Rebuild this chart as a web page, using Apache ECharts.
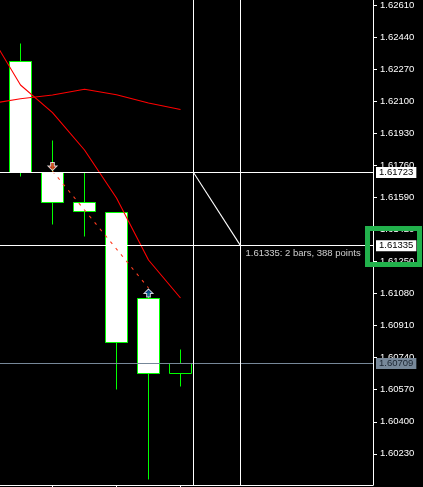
<!DOCTYPE html>
<html><head><meta charset="utf-8">
<style>html,body{margin:0;padding:0;background:#000;overflow:hidden}#c{width:423px;height:487px}</style>
<script src="https://cdn.jsdelivr.net/npm/echarts@6/dist/echarts.min.js"></script>
</head><body><div id="c"></div>
<script>
// open, close, low, high
const candles = [
  [1.623127, 1.61723, 1.616995, 1.624109],
  [1.61723, 1.615641, 1.614447, 1.618959],
  [1.615641, 1.615163, 1.61381, 1.61726],
  [1.61511, 1.608209, 1.605687, 1.61511],
  [1.610545, 1.606563, 1.600909, 1.610837],
  [1.606563, 1.60709, 1.605846, 1.607811]
];
const barIndex = [-1, 0, 1, 2, 3, 4, 5];
const fastMA = [1.624714, 1.621879, 1.620409, 1.618428, 1.61588, 1.612589, 1.610571];
const slowMA = [1.620871, 1.621152, 1.621348, 1.621651, 1.621364, 1.620924, 1.620579];
const tradeLine = [[1, 1.617314], [4, 1.611102]];
const sellArrow = [1, 1.617553];
const buyArrow = [4, 1.610837];
const priceTicks = [1.6261,1.6244,1.6227,1.621,1.6193,1.6176,1.6159,1.6142,1.6125,1.6108,1.6091,1.6074,1.6057,1.604,1.6023];
const barTicks = [1, 3, 5];
const crossStart = [5.406, 1.61723];
const crossEnd = [6.875, 1.61335];
const bidPrice = 1.60709;
const measureText = '1.61335: 2 bars, 388 points';

const FONT = '"Liberation Sans",sans-serif';
const SIZE = 9.5;
const chart = echarts.init(document.getElementById('c'), null, {renderer:'canvas'});
const red = '#ff0000';
function boxLabel(bg, fg){
  return {show:true, position:'end', distance:3, formatter:p=>p.value.toFixed(5),
    backgroundColor:bg, color:fg, fontFamily:FONT, fontSize:SIZE, lineHeight:11, padding:[0,3,0,3]};
}
chart.setOption({
  animation:false,
  backgroundColor:'#000',
  grid:{left:0, top:0, width:373, height:485, containLabel:false},
  xAxis:{type:'value', min:-0.6406, max:11.0156, position:'bottom',
    axisLine:{show:true, onZero:false, lineStyle:{color:'#fff',width:1}},
    axisTick:{show:true, length:2, customValues:barTicks, lineStyle:{color:'#fff'}},
    axisLabel:{show:false}, splitLine:{show:false}},
  yAxis:{type:'value', position:'right', min:1.600643, max:1.626392, scale:true,
    axisLine:{show:true, onZero:false, lineStyle:{color:'#fff',width:1}},
    axisTick:{show:true, length:4, customValues:priceTicks, lineStyle:{color:'#fff'}},
    axisLabel:{show:true, customValues:priceTicks, margin:7, color:'#fff', fontFamily:FONT, fontSize:SIZE,
      formatter:v=>v.toFixed(5)},
    splitLine:{show:false}},
  series:[
    {type:'custom', coordinateSystem:'cartesian2d', z:2, clip:true,
     data:candles.map((c,i)=>[i,c[0],c[1],c[2],c[3]]),
     encode:{x:0,y:[1,2,3,4]},
     renderItem:(params,api)=>{
       const i=api.value(0), o=api.value(1), c=api.value(2), l=api.value(3), h=api.value(4);
       const x=Math.floor(api.coord([i,o])[0])+0.5;
       const yO=Math.floor(api.coord([i,o])[1])+0.5, yC=Math.floor(api.coord([i,c])[1])+0.5;
       const yL=Math.floor(api.coord([i,l])[1])+0.5, yH=Math.floor(api.coord([i,h])[1])+0.5;
       const top=Math.min(yO,yC), bot=Math.max(yO,yC);
       const st={stroke:'#00ff00',lineWidth:1};
       return {type:'group',children:[
         {type:'line',shape:{x1:x,y1:yH,x2:x,y2:top},style:st},
         {type:'line',shape:{x1:x,y1:bot,x2:x,y2:yL},style:st},
         {type:'rect',shape:{x:x-11,y:top,width:22,height:bot-top},
          style:{fill:c<o?'#ffffff':'#000000',stroke:'#00ff00',lineWidth:1}}
       ]};
     }},
    {type:'line', z:3, symbol:'none', silent:true, data:barIndex.map((x,i)=>[x,fastMA[i]]), lineStyle:{color:red,width:1.1}},
    {type:'line', z:3, symbol:'none', silent:true, data:barIndex.map((x,i)=>[x,slowMA[i]]), lineStyle:{color:red,width:1.1}},
    {type:'line', z:3, symbol:'none', silent:true, data:tradeLine, lineStyle:{color:'#ff3c20',width:1.1,type:[3,5.3]}},
    {type:'line', z:4, symbol:'none', silent:true, data:[crossStart,crossEnd], lineStyle:{color:'#fff',width:1.1},
     markLine:{silent:true, symbol:'none', precision:5, animation:false,
       lineStyle:{color:'#fff',width:1,type:'solid'},
       data:[
         {yAxis:crossStart[1], label:boxLabel('#fff','#000')},
         {yAxis:crossEnd[1], label:boxLabel('#fff','#000')},
         {yAxis:bidPrice, lineStyle:{color:'#778899'}, label:boxLabel('#778899','#1a2430')},
         {xAxis:crossStart[0], label:{show:false}},
         {xAxis:crossEnd[0], label:{show:false}}
       ]}},
    {type:'scatter', z:6, silent:true, data:[crossEnd], symbolSize:0,
     label:{show:true, position:'right', distance:5, offset:[0,8], formatter:measureText, color:'#fff', fontFamily:FONT, fontSize:SIZE}},
    {type:'scatter', z:7, silent:true, data:[sellArrow], symbol:'path://M3,0 L7,0 L7,4 L10,4 L5,9 L0,4 L3,4 Z', symbolSize:[9,8],
     itemStyle:{color:'#f0401c',borderColor:'#fff',borderWidth:1}},
    {type:'scatter', z:7, silent:true, data:[buyArrow], symbol:'path://M5,0 L10,5 L7,5 L7,9 L3,9 L3,5 L0,5 Z', symbolSize:[9,8],
     itemStyle:{color:'#0c5aa6',borderColor:'#fff',borderWidth:1}}
  ],
  graphic:[{type:'rect', z:100, silent:true, shape:{x:367.5,y:228.5,width:52,height:36},
    style:{fill:'none',stroke:'#22b14c',lineWidth:5}}]
});
</script></body></html>
